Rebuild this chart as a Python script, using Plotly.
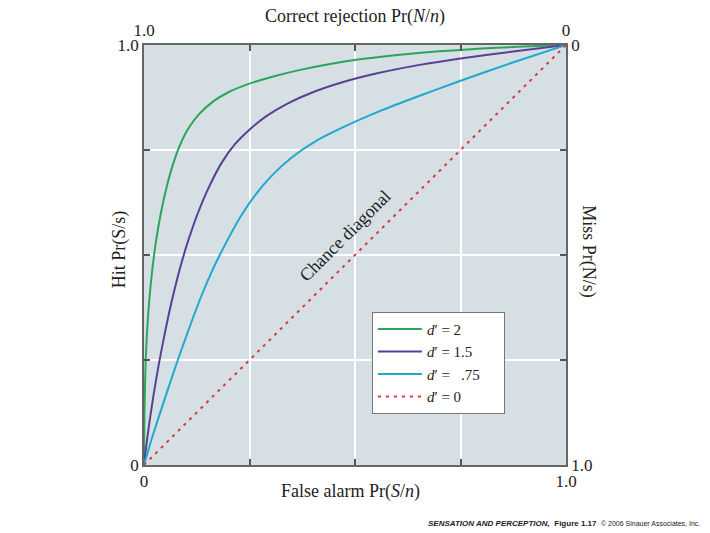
import plotly.graph_objects as go

# ---- data (x = false alarm rate, y = hit rate) ----
fa_d2 = [0, 0.001, 0.004, 0.01, 0.018, 0.028, 0.04, 0.055, 0.07, 0.085, 0.105, 0.13,
         0.165, 0.2, 0.243, 0.3, 0.37, 0.441, 0.52, 0.6, 0.7, 0.8, 0.9, 1.0]
hit_d2 = [0, 0.12, 0.25, 0.36, 0.45, 0.53, 0.60, 0.6675, 0.72, 0.761, 0.801, 0.835,
          0.8665, 0.8875, 0.9056, 0.9233, 0.9408, 0.955, 0.9672, 0.9764, 0.9849, 0.9914,
          0.9964, 1.0]

fa_d15 = [0, 0.005, 0.012, 0.022, 0.035, 0.05, 0.066, 0.085, 0.105, 0.128, 0.155, 0.185,
          0.216, 0.25, 0.29, 0.34, 0.4, 0.47, 0.55, 0.65, 0.75, 0.87, 1.0]
hit_d15 = [0, 0.0425, 0.0957, 0.1627, 0.2394, 0.3174, 0.391, 0.467, 0.535, 0.6006, 0.6641,
           0.7211, 0.7645, 0.7985, 0.8305, 0.8605, 0.8875, 0.9113, 0.9321, 0.9521, 0.9681,
           0.9837, 1.0]

fa_d075 = [0, 0.02, 0.045, 0.075, 0.105, 0.135, 0.165, 0.195, 0.225, 0.26, 0.3, 0.35,
           0.41, 0.48, 0.56, 0.65, 0.75, 0.87, 1.0]
hit_d075 = [0, 0.068, 0.145, 0.235, 0.32, 0.4, 0.47, 0.53, 0.585, 0.638, 0.686, 0.732,
            0.773, 0.808, 0.843, 0.878, 0.915, 0.957, 1.0]

fa_d0 = [0, 1.0]
hit_d0 = [0, 1.0]

grid_vals = [0, 0.25, 0.5, 0.75, 1.0]
bottom_ticks = ["0", "", "", "", "1.0"]
left_ticks = ["0", "", "", "", "1.0"]
top_ticks = ["1.0", "", "", "", "0"]
right_ticks = ["1.0", "", "", "", "0"]

SERIF = "Liberation Serif, Times New Roman, serif"
NB = "\u00a0"

fig = go.Figure()
fig.add_trace(go.Scatter(x=fa_d2, y=hit_d2, mode="lines", name="<i>d</i>′ = 2",
                         line=dict(color="#2aa55a", width=2, shape="spline", smoothing=0.6)))
fig.add_trace(go.Scatter(x=fa_d15, y=hit_d15, mode="lines", name="<i>d</i>′ = 1.5",
                         line=dict(color="#5a3f95", width=2, shape="spline", smoothing=0.6)))
fig.add_trace(go.Scatter(x=fa_d075, y=hit_d075, mode="lines",
                         name="<i>d</i>′ =" + NB * 3 + ".75" + NB * 5,
                         line=dict(color="#1fa8d0", width=2, shape="spline", smoothing=0.6)))
fig.add_trace(go.Scatter(x=fa_d0, y=hit_d0, mode="lines", name="<i>d</i>′ = 0",
                         line=dict(color="#d63a3a", width=2, dash="3px,5px")))
# empty trace to carry the top/right axes
fig.add_trace(go.Scatter(x=[], y=[], xaxis="x2", yaxis="y2", showlegend=False,
                         hoverinfo="skip"))

axis_common = dict(range=[0, 1], tickvals=grid_vals, ticks="inside", ticklen=6,
                   tickwidth=1.5, tickcolor="#555", showline=True, linecolor="#666",
                   linewidth=1.5, zeroline=False,
                   tickfont=dict(family=SERIF, size=17, color="#222"))

fig.update_layout(
    width=710, height=533,
    margin=dict(l=144, r=144, t=45, b=68),
    paper_bgcolor="white",
    plot_bgcolor="#d6dfe4",
    xaxis=dict(**axis_common, ticktext=bottom_ticks, showgrid=True,
               gridcolor="white", gridwidth=1.5, side="bottom"),
    yaxis=dict(**axis_common, ticktext=left_ticks, showgrid=True,
               gridcolor="white", gridwidth=1.5, side="left"),
    xaxis2=dict(**axis_common, ticktext=top_ticks, showgrid=False,
                overlaying="x", side="top", anchor="y"),
    yaxis2=dict(**axis_common, ticktext=right_ticks, showgrid=False,
                overlaying="y", side="right", anchor="x"),
    legend=dict(x=0.54, y=0.365, xanchor="left", yanchor="top",
                bgcolor="white", bordercolor="#777", borderwidth=1,
                itemwidth=44,
                font=dict(family=SERIF, size=15, color="#222"),
                tracegroupgap=0),
    showlegend=True,
)

fig.add_annotation(text="Correct rejection Pr(<i>N</i>/<i>n</i>)", xref="paper", yref="paper",
                   x=0.5, y=1.067, xanchor="center", yanchor="middle", showarrow=False,
                   font=dict(family=SERIF, size=18, color="#222"))
fig.add_annotation(text="False alarm Pr(<i>S</i>/<i>n</i>)", xref="paper", yref="paper",
                   x=0.49, y=-0.062, xanchor="center", yanchor="middle", showarrow=False,
                   font=dict(family=SERIF, size=18, color="#222"))
fig.add_annotation(text="Hit Pr(S/s)", xref="paper", yref="paper",
                   x=-0.059, y=0.514, xanchor="center", yanchor="middle", showarrow=False,
                   textangle=-90, font=dict(family=SERIF, size=18, color="#222"))
fig.add_annotation(text="Miss Pr(N/s)", xref="paper", yref="paper",
                   x=1.054, y=0.507, xanchor="center", yanchor="middle", showarrow=False,
                   textangle=90, font=dict(family=SERIF, size=18, color="#222"))
fig.add_annotation(text="Chance diagonal", xref="x", yref="y", x=0.476, y=0.545,
                   showarrow=False, textangle=-45,
                   font=dict(family=SERIF, size=18, color="#222"))
fig.add_annotation(
    text="<b><i>SENSATION AND PERCEPTION,</i></b>  <b>Figure 1.17</b>  "
         "<span style='font-size:7px'>© 2006 Sinauer Associates, Inc.</span>",
    xref="paper", yref="paper", x=(702 - 144) / 422, y=(465 - 523) / 420,
    xanchor="right", yanchor="middle", showarrow=False,
    font=dict(family="Liberation Sans, Arial, sans-serif", size=8, color="#222"))

fig.write_html("out.html")
